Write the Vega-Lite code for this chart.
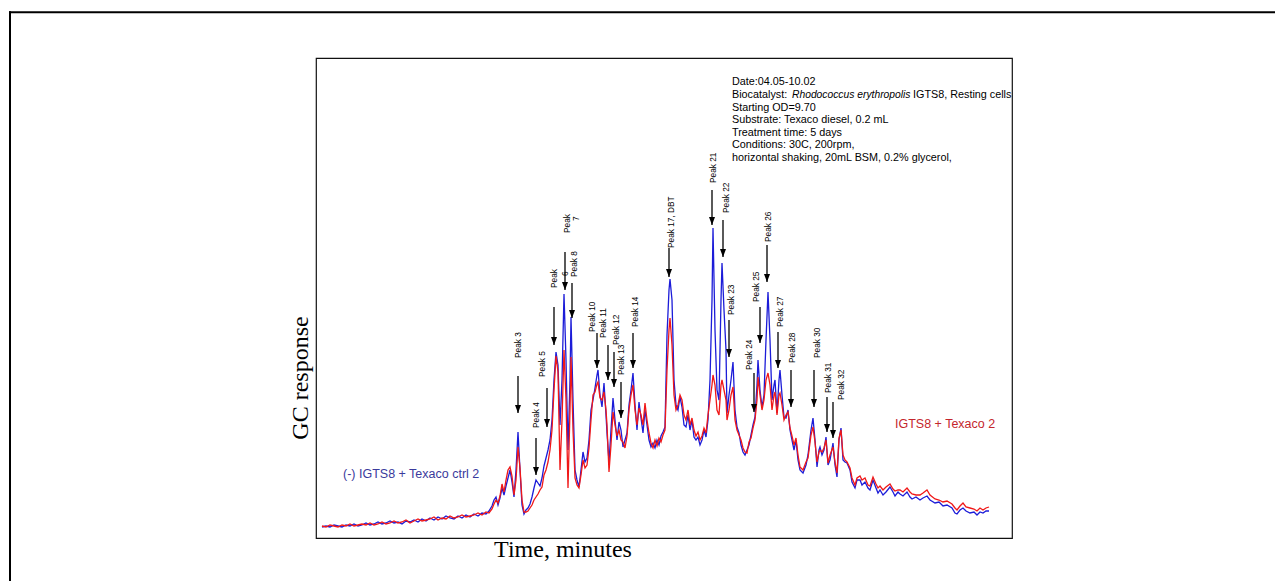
{
  "$schema": "https://vega.github.io/schema/vega-lite/v6.json",
  "width": 696,
  "height": 480,
  "autosize": {"type": "none"},
  "padding": {"left": 316, "top": 58, "right": 263, "bottom": 43},
  "background": "white",
  "config": {
    "view": {"stroke": "#111111", "strokeWidth": 1.2},
    "text": {"font": "Liberation Sans"}
  },
  "datasets": {
    "trace": [
      {"t":6,"ctrl":11,"igts8":12},{"t":10,"ctrl":12,"igts8":11},{"t":14,"ctrl":11,"igts8":13},{"t":18,"ctrl":13,"igts8":12},
      {"t":22,"ctrl":12,"igts8":11},{"t":26,"ctrl":11,"igts8":13},{"t":30,"ctrl":13,"igts8":12},{"t":34,"ctrl":12,"igts8":14},
      {"t":38,"ctrl":14,"igts8":12},{"t":42,"ctrl":12,"igts8":13},{"t":46,"ctrl":13,"igts8":14},{"t":50,"ctrl":15,"igts8":13},
      {"t":54,"ctrl":13,"igts8":15},{"t":58,"ctrl":14,"igts8":13},{"t":62,"ctrl":16,"igts8":14},{"t":66,"ctrl":14,"igts8":16},
      {"t":70,"ctrl":15,"igts8":14},{"t":74,"ctrl":17,"igts8":15},{"t":78,"ctrl":15,"igts8":17},{"t":82,"ctrl":16,"igts8":15},
      {"t":86,"ctrl":14,"igts8":16},{"t":90,"ctrl":17,"igts8":18},{"t":94,"ctrl":16,"igts8":15},{"t":98,"ctrl":18,"igts8":17},
      {"t":102,"ctrl":16,"igts8":19},{"t":106,"ctrl":19,"igts8":17},{"t":110,"ctrl":17,"igts8":18},{"t":114,"ctrl":20,"igts8":19},
      {"t":118,"ctrl":18,"igts8":21},{"t":122,"ctrl":21,"igts8":18},{"t":126,"ctrl":19,"igts8":20},{"t":130,"ctrl":22,"igts8":19},
      {"t":134,"ctrl":20,"igts8":22},{"t":138,"ctrl":19,"igts8":20},{"t":142,"ctrl":22,"igts8":21},{"t":146,"ctrl":20,"igts8":23},
      {"t":150,"ctrl":23,"igts8":21},{"t":154,"ctrl":21,"igts8":22},{"t":158,"ctrl":24,"igts8":23},{"t":162,"ctrl":22,"igts8":25},
      {"t":166,"ctrl":25,"igts8":23},{"t":170,"ctrl":24,"igts8":26},{"t":173,"ctrl":27,"igts8":25},{"t":176,"ctrl":32,"igts8":29},
      {"t":178,"ctrl":38,"igts8":34},{"t":180,"ctrl":41,"igts8":38},{"t":182,"ctrl":33,"igts8":35},{"t":184,"ctrl":40,"igts8":42},
      {"t":186,"ctrl":50,"igts8":54},{"t":188,"ctrl":43,"igts8":46},{"t":190,"ctrl":52,"igts8":58},{"t":192,"ctrl":60,"igts8":68},
      {"t":194,"ctrl":68,"igts8":71},{"t":196,"ctrl":56,"igts8":62},{"t":198,"ctrl":41,"igts8":43},{"t":200,"ctrl":68,"igts8":58},
      {"t":202,"ctrl":106,"igts8":91},{"t":204,"ctrl":68,"igts8":70},{"t":206,"ctrl":33,"igts8":38},{"t":208,"ctrl":24,"igts8":26},
      {"t":210,"ctrl":28,"igts8":26},{"t":212,"ctrl":30,"igts8":27},{"t":214,"ctrl":34,"igts8":30},{"t":216,"ctrl":41,"igts8":33},
      {"t":218,"ctrl":50,"igts8":38},{"t":220,"ctrl":58,"igts8":41},{"t":222,"ctrl":55,"igts8":44},{"t":224,"ctrl":52,"igts8":48},
      {"t":226,"ctrl":60,"igts8":51},{"t":228,"ctrl":72,"igts8":63},{"t":230,"ctrl":80,"igts8":68},{"t":232,"ctrl":88,"igts8":76},
      {"t":234,"ctrl":98,"igts8":88},{"t":236,"ctrl":118,"igts8":108},{"t":238,"ctrl":158,"igts8":148},{"t":240,"ctrl":186,"igts8":182},
      {"t":242,"ctrl":173,"igts8":166},{"t":244,"ctrl":113,"igts8":68},{"t":246,"ctrl":158,"igts8":118},{"t":248,"ctrl":244,"igts8":188},
      {"t":250,"ctrl":178,"igts8":138},{"t":252,"ctrl":88,"igts8":50},{"t":254,"ctrl":158,"igts8":128},{"t":255,"ctrl":221,"igts8":181},
      {"t":257,"ctrl":138,"igts8":108},{"t":259,"ctrl":68,"igts8":60},{"t":261,"ctrl":58,"igts8":53},{"t":263,"ctrl":51,"igts8":50},
      {"t":265,"ctrl":68,"igts8":63},{"t":267,"ctrl":86,"igts8":78},{"t":269,"ctrl":76,"igts8":70},{"t":271,"ctrl":80,"igts8":73},
      {"t":273,"ctrl":98,"igts8":90},{"t":275,"ctrl":128,"igts8":118},{"t":277,"ctrl":138,"igts8":143},{"t":279,"ctrl":150,"igts8":146},
      {"t":281,"ctrl":163,"igts8":154},{"t":282,"ctrl":168,"igts8":156},{"t":284,"ctrl":143,"igts8":140},{"t":286,"ctrl":131,"igts8":138},
      {"t":288,"ctrl":155,"igts8":146},{"t":290,"ctrl":123,"igts8":128},{"t":291,"ctrl":105,"igts8":113},{"t":293,"ctrl":76,"igts8":66},
      {"t":295,"ctrl":108,"igts8":93},{"t":297,"ctrl":140,"igts8":126},{"t":299,"ctrl":118,"igts8":113},{"t":301,"ctrl":98,"igts8":102},
      {"t":303,"ctrl":116,"igts8":108},{"t":305,"ctrl":108,"igts8":98},{"t":307,"ctrl":91,"igts8":96},{"t":309,"ctrl":98,"igts8":90},
      {"t":311,"ctrl":105,"igts8":102},{"t":313,"ctrl":133,"igts8":128},{"t":315,"ctrl":148,"igts8":143},{"t":317,"ctrl":165,"igts8":153},
      {"t":319,"ctrl":133,"igts8":128},{"t":321,"ctrl":108,"igts8":113},{"t":323,"ctrl":136,"igts8":130},{"t":325,"ctrl":120,"igts8":123},
      {"t":327,"ctrl":105,"igts8":113},{"t":329,"ctrl":128,"igts8":135},{"t":331,"ctrl":113,"igts8":118},{"t":333,"ctrl":98,"igts8":105},
      {"t":335,"ctrl":91,"igts8":95},{"t":337,"ctrl":95,"igts8":90},{"t":339,"ctrl":90,"igts8":98},{"t":341,"ctrl":98,"igts8":92},
      {"t":343,"ctrl":93,"igts8":100},{"t":345,"ctrl":102,"igts8":96},{"t":347,"ctrl":106,"igts8":103},{"t":349,"ctrl":111,"igts8":108},
      {"t":351,"ctrl":203,"igts8":168},{"t":353,"ctrl":248,"igts8":208},{"t":354,"ctrl":259,"igts8":220},{"t":356,"ctrl":238,"igts8":193},
      {"t":358,"ctrl":158,"igts8":143},{"t":360,"ctrl":133,"igts8":128},{"t":362,"ctrl":128,"igts8":133},{"t":364,"ctrl":141,"igts8":143},
      {"t":366,"ctrl":131,"igts8":138},{"t":368,"ctrl":113,"igts8":123},{"t":370,"ctrl":111,"igts8":118},{"t":372,"ctrl":123,"igts8":128},
      {"t":374,"ctrl":108,"igts8":113},{"t":376,"ctrl":118,"igts8":120},{"t":378,"ctrl":101,"igts8":108},{"t":380,"ctrl":98,"igts8":102},
      {"t":382,"ctrl":101,"igts8":106},{"t":384,"ctrl":93,"igts8":98},{"t":386,"ctrl":98,"igts8":102},{"t":388,"ctrl":108,"igts8":110},
      {"t":390,"ctrl":101,"igts8":105},{"t":392,"ctrl":118,"igts8":123},{"t":394,"ctrl":158,"igts8":138},{"t":396,"ctrl":238,"igts8":153},
      {"t":397,"ctrl":310,"igts8":163},{"t":399,"ctrl":208,"igts8":153},{"t":401,"ctrl":148,"igts8":128},{"t":403,"ctrl":138,"igts8":123},
      {"t":405,"ctrl":238,"igts8":153},{"t":406,"ctrl":275,"igts8":158},{"t":408,"ctrl":228,"igts8":148},{"t":410,"ctrl":188,"igts8":138},
      {"t":411,"ctrl":125,"igts8":118},{"t":413,"ctrl":143,"igts8":128},{"t":415,"ctrl":158,"igts8":143},{"t":417,"ctrl":176,"igts8":151},
      {"t":419,"ctrl":128,"igts8":118},{"t":421,"ctrl":111,"igts8":108},{"t":423,"ctrl":105,"igts8":103},{"t":425,"ctrl":93,"igts8":98},
      {"t":427,"ctrl":86,"igts8":90},{"t":429,"ctrl":83,"igts8":86},{"t":431,"ctrl":88,"igts8":85},{"t":433,"ctrl":93,"igts8":96},
      {"t":435,"ctrl":103,"igts8":100},{"t":437,"ctrl":113,"igts8":110},{"t":439,"ctrl":121,"igts8":118},{"t":441,"ctrl":153,"igts8":138},
      {"t":442,"ctrl":178,"igts8":161},{"t":444,"ctrl":148,"igts8":143},{"t":446,"ctrl":131,"igts8":128},{"t":448,"ctrl":143,"igts8":138},
      {"t":450,"ctrl":198,"igts8":158},{"t":452,"ctrl":246,"igts8":165},{"t":454,"ctrl":198,"igts8":153},{"t":456,"ctrl":138,"igts8":128},
      {"t":458,"ctrl":153,"igts8":143},{"t":459,"ctrl":158,"igts8":146},{"t":461,"ctrl":125,"igts8":123},{"t":463,"ctrl":158,"igts8":143},
      {"t":464,"ctrl":168,"igts8":145},{"t":466,"ctrl":143,"igts8":133},{"t":468,"ctrl":121,"igts8":118},{"t":470,"ctrl":120,"igts8":123},
      {"t":472,"ctrl":128,"igts8":126},{"t":474,"ctrl":108,"igts8":110},{"t":476,"ctrl":98,"igts8":102},{"t":478,"ctrl":88,"igts8":93},
      {"t":480,"ctrl":98,"igts8":100},{"t":482,"ctrl":78,"igts8":83},{"t":484,"ctrl":68,"igts8":71},{"t":487,"ctrl":65,"igts8":68},
      {"t":490,"ctrl":73,"igts8":76},{"t":492,"ctrl":83,"igts8":80},{"t":495,"ctrl":108,"igts8":103},{"t":497,"ctrl":120,"igts8":111},
      {"t":499,"ctrl":98,"igts8":96},{"t":501,"ctrl":71,"igts8":76},{"t":503,"ctrl":88,"igts8":86},{"t":504,"ctrl":91,"igts8":88},
      {"t":506,"ctrl":83,"igts8":86},{"t":508,"ctrl":88,"igts8":90},{"t":510,"ctrl":101,"igts8":98},{"t":512,"ctrl":73,"igts8":75},
      {"t":514,"ctrl":78,"igts8":83},{"t":517,"ctrl":95,"igts8":91},{"t":519,"ctrl":73,"igts8":76},{"t":521,"ctrl":61,"igts8":65},
      {"t":523,"ctrl":98,"igts8":100},{"t":525,"ctrl":110,"igts8":108},{"t":527,"ctrl":78,"igts8":83},{"t":529,"ctrl":76,"igts8":78},
      {"t":531,"ctrl":75,"igts8":76},{"t":534,"ctrl":68,"igts8":70},{"t":536,"ctrl":56,"igts8":60},{"t":539,"ctrl":50,"igts8":53},
      {"t":541,"ctrl":58,"igts8":60},{"t":544,"ctrl":58,"igts8":62},{"t":546,"ctrl":53,"igts8":58},{"t":549,"ctrl":56,"igts8":60},
      {"t":552,"ctrl":50,"igts8":53},{"t":554,"ctrl":48,"igts8":52},{"t":557,"ctrl":58,"igts8":61},{"t":560,"ctrl":50,"igts8":54},
      {"t":562,"ctrl":45,"igts8":50},{"t":564,"ctrl":48,"igts8":52},{"t":567,"ctrl":43,"igts8":48},{"t":570,"ctrl":46,"igts8":51},
      {"t":574,"ctrl":51,"igts8":54},{"t":577,"ctrl":46,"igts8":49},{"t":579,"ctrl":42,"igts8":47},{"t":582,"ctrl":46,"igts8":48},
      {"t":584,"ctrl":44,"igts8":48},{"t":587,"ctrl":42,"igts8":46},{"t":591,"ctrl":46,"igts8":50},{"t":594,"ctrl":41,"igts8":46},
      {"t":596,"ctrl":39,"igts8":44},{"t":600,"ctrl":41,"igts8":43},{"t":604,"ctrl":38,"igts8":43},{"t":607,"ctrl":40,"igts8":45},
      {"t":611,"ctrl":42,"igts8":48},{"t":614,"ctrl":38,"igts8":43},{"t":619,"ctrl":35,"igts8":39},{"t":623,"ctrl":36,"igts8":38},
      {"t":627,"ctrl":32,"igts8":36},{"t":631,"ctrl":33,"igts8":37},{"t":636,"ctrl":30,"igts8":34},{"t":639,"ctrl":25,"igts8":30},
      {"t":641,"ctrl":24,"igts8":28},{"t":644,"ctrl":28,"igts8":32},{"t":647,"ctrl":30,"igts8":35},{"t":650,"ctrl":27,"igts8":31},
      {"t":654,"ctrl":25,"igts8":30},{"t":658,"ctrl":26,"igts8":29},{"t":661,"ctrl":23,"igts8":27},{"t":664,"ctrl":26,"igts8":30},
      {"t":667,"ctrl":25,"igts8":28},{"t":670,"ctrl":27,"igts8":30},{"t":673,"ctrl":27,"igts8":31}
    ],
    "peaks": [
      {"peak":"Peak 3","t":202,"top":162,"tip":125},
      {"peak":"Peak 4","t":220,"top":100,"tip":63},
      {"peak":"Peak 5","t":231,"top":150,"tip":111},
      {"peak":"Peak 6","t":238,"top":231,"tip":193},
      {"peak":"Peak 7","t":249,"top":286,"tip":248},
      {"peak":"Peak 8","t":256,"top":255,"tip":220},
      {"peak":"Peak 10","t":281,"top":205,"tip":170},
      {"peak":"Peak 11","t":292,"top":193,"tip":158},
      {"peak":"Peak 12","t":298,"top":186,"tip":151},
      {"peak":"Peak 13","t":305,"top":156,"tip":120},
      {"peak":"Peak 14","t":317,"top":205,"tip":170},
      {"peak":"Peak 17","t":353,"top":290,"tip":261},
      {"peak":"Peak 21","t":396,"top":348,"tip":313},
      {"peak":"Peak 22","t":407,"top":318,"tip":281},
      {"peak":"Peak 23","t":413,"top":218,"tip":181},
      {"peak":"Peak 24","t":438,"top":165,"tip":126},
      {"peak":"Peak 25","t":444,"top":231,"tip":195},
      {"peak":"Peak 26","t":451,"top":293,"tip":256},
      {"peak":"Peak 27","t":462,"top":206,"tip":170},
      {"peak":"Peak 28","t":475,"top":168,"tip":131},
      {"peak":"Peak 30","t":498,"top":168,"tip":131},
      {"peak":"Peak 31","t":511,"top":141,"tip":106},
      {"peak":"Peak 32","t":517,"top":136,"tip":100}
    ],
    "labels": [
      {"text":"Peak 3","t":203,"r":180},
      {"text":"Peak 4","t":221,"r":110},
      {"text":"Peak 5","t":227,"r":161},
      {"text":"Peak","t":239,"r":250},
      {"text":"6","t":250,"r":262},
      {"text":"Peak","t":252,"r":305},
      {"text":"7","t":261,"r":317},
      {"text":"Peak 8","t":259,"r":261},
      {"text":"Peak 10","t":277,"r":206},
      {"text":"Peak 11","t":288,"r":200},
      {"text":"Peak 12","t":301,"r":193},
      {"text":"Peak 13","t":306,"r":163},
      {"text":"Peak 14","t":320,"r":211},
      {"text":"Peak 17, DBT","t":356,"r":290},
      {"text":"Peak 21","t":398,"r":355},
      {"text":"Peak 22","t":411,"r":325},
      {"text":"Peak 23","t":416,"r":223},
      {"text":"Peak 24","t":434,"r":168},
      {"text":"Peak 25","t":441,"r":236},
      {"text":"Peak 26","t":453,"r":296},
      {"text":"Peak 27","t":465,"r":211},
      {"text":"Peak 28","t":477,"r":175},
      {"text":"Peak 30","t":502,"r":180},
      {"text":"Peak 31","t":513,"r":145},
      {"text":"Peak 32","t":526,"r":138}
    ],
    "info": [
      {"text":"Date:04.05-10.02","t":416,"r":456},
      {"text":"Biocatalyst:","t":416,"r":443},
      {"text":"IGTS8, Resting cells","t":597,"r":443},
      {"text":"Starting OD=9.70","t":416,"r":430},
      {"text":"Substrate: Texaco diesel, 0.2 mL","t":416,"r":418},
      {"text":"Treatment time: 5 days","t":416,"r":405},
      {"text":"Conditions: 30C, 200rpm,","t":416,"r":393},
      {"text":"horizontal shaking, 20mL BSM, 0.2% glycerol,","t":416,"r":380}
    ],
    "infoItalic": [
      {"text":"Rhodococcus erythropolis","t":476,"r":443}
    ],
    "series": [
      {"text":"(-) IGTS8 + Texaco ctrl 2","series":"ctrl","t":27,"r":64},
      {"text":"IGTS8 + Texaco 2","series":"igts8","t":579,"r":114}
    ],
    "titles": [
      {"text":"Time, minutes","t":247,"r":-12,"angle":0},
      {"text":"GC response","t":-8,"r":160,"angle":270}
    ],
    "frame": [
      {"x1":-307,"x2":959,"y1":525.7,"y2":525.7},
      {"x1":-306,"x2":-306,"y1":526.7,"y2":-43}
    ]
  },
  "layer": [
    {
      "data": {"name": "trace"},
      "mark": {"type": "line", "color": "#1c1cd8", "strokeWidth": 1.3},
      "encoding": {
        "x": {"field": "t", "type": "quantitative", "scale": {"domain": [0, 696], "nice": false, "zero": false}, "axis": null},
        "y": {"field": "ctrl", "type": "quantitative", "scale": {"domain": [0, 480], "nice": false, "zero": false}, "axis": null}
      }
    },
    {
      "data": {"name": "trace"},
      "mark": {"type": "line", "color": "#f01818", "strokeWidth": 1.3},
      "encoding": {
        "x": {"field": "t", "type": "quantitative", "axis": null},
        "y": {"field": "igts8", "type": "quantitative", "axis": null}
      }
    },
    {
      "data": {"name": "peaks"},
      "mark": {"type": "rule", "color": "#000000", "strokeWidth": 1.3},
      "encoding": {
        "x": {"field": "t", "type": "quantitative", "axis": null},
        "y": {"field": "top", "type": "quantitative", "axis": null},
        "y2": {"field": "tip"}
      }
    },
    {
      "data": {"name": "peaks"},
      "mark": {"type": "point", "shape": "M-0.75,-1L0.75,-1L0,1Z", "size": 64, "filled": true, "color": "#000000", "opacity": 1, "yOffset": -4},
      "encoding": {
        "x": {"field": "t", "type": "quantitative", "axis": null},
        "y": {"field": "tip", "type": "quantitative", "axis": null}
      }
    },
    {
      "data": {"name": "labels"},
      "mark": {"type": "text", "angle": 270, "align": "left", "baseline": "middle", "fontSize": 8.3, "color": "#000000"},
      "encoding": {
        "x": {"field": "t", "type": "quantitative", "axis": null},
        "y": {"field": "r", "type": "quantitative", "axis": null},
        "text": {"field": "text"}
      }
    },
    {
      "data": {"name": "info"},
      "mark": {"type": "text", "align": "left", "baseline": "middle", "fontSize": 10.8, "color": "#000000"},
      "encoding": {
        "x": {"field": "t", "type": "quantitative", "axis": null},
        "y": {"field": "r", "type": "quantitative", "axis": null},
        "text": {"field": "text"}
      }
    },
    {
      "data": {"name": "infoItalic"},
      "mark": {"type": "text", "align": "left", "baseline": "middle", "fontSize": 10.3, "fontStyle": "italic", "color": "#000000"},
      "encoding": {
        "x": {"field": "t", "type": "quantitative", "axis": null},
        "y": {"field": "r", "type": "quantitative", "axis": null},
        "text": {"field": "text"}
      }
    },
    {
      "data": {"name": "series"},
      "mark": {"type": "text", "align": "left", "baseline": "middle", "fontSize": 12.5},
      "encoding": {
        "x": {"field": "t", "type": "quantitative", "axis": null},
        "y": {"field": "r", "type": "quantitative", "axis": null},
        "text": {"field": "text"},
        "color": {"field": "series", "type": "nominal", "scale": {"domain": ["ctrl", "igts8"], "range": ["#3a3a9c", "#c4262c"]}, "legend": null}
      }
    },
    {
      "data": {"name": "titles"},
      "transform": [{"filter": "datum.angle == 0"}],
      "mark": {"type": "text", "align": "center", "baseline": "middle", "font": "Liberation Serif", "fontSize": 24, "color": "#000000"},
      "encoding": {
        "x": {"field": "t", "type": "quantitative", "axis": null},
        "y": {"field": "r", "type": "quantitative", "axis": null},
        "text": {"field": "text"}
      }
    },
    {
      "data": {"name": "titles"},
      "transform": [{"filter": "datum.angle == 270"}],
      "mark": {"type": "text", "align": "center", "baseline": "alphabetic", "angle": 270, "font": "Liberation Serif", "fontSize": 24, "color": "#000000"},
      "encoding": {
        "x": {"field": "t", "type": "quantitative", "axis": null},
        "y": {"field": "r", "type": "quantitative", "axis": null},
        "text": {"field": "text"}
      }
    },
    {
      "data": {"name": "frame"},
      "mark": {"type": "rule", "color": "#000000", "strokeWidth": 2},
      "encoding": {
        "x": {"field": "x1", "type": "quantitative", "axis": null},
        "x2": {"field": "x2"},
        "y": {"field": "y1", "type": "quantitative", "axis": null},
        "y2": {"field": "y2"}
      }
    }
  ]
}
